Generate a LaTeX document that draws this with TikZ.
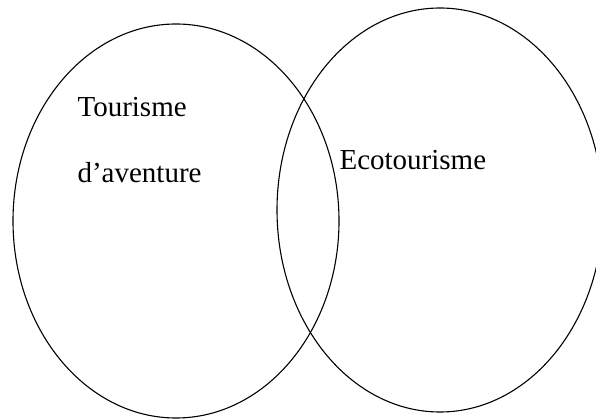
\documentclass[tikz,border=0pt]{standalone}
\usepackage{fontspec}
\setmainfont{Liberation Serif}
\usetikzlibrary{shapes}

\begin{document}
\begin{tikzpicture}[x=1pt,y=1pt,line width=1.1pt,
  label/.style={anchor=base west, inner sep=0pt, font=\fontsize{29}{35}\selectfont}]
\useasboundingbox (0,0) rectangle (596,-419);
\node[ellipse, draw=black, inner sep=0pt, minimum width=326pt, minimum height=394pt] (1) at (176,-221) {};
\node[ellipse, draw=black, inner sep=0pt, minimum width=326pt, minimum height=404pt] (2) at (440,-210) {};
\node[label] (3) at (77,-117) {Tourisme};
\node[label] (4) at (77,-183) {d’aventure};
\node[label] (5) at (339,-170) {Ecotourisme};
\end{tikzpicture}
\end{document}
